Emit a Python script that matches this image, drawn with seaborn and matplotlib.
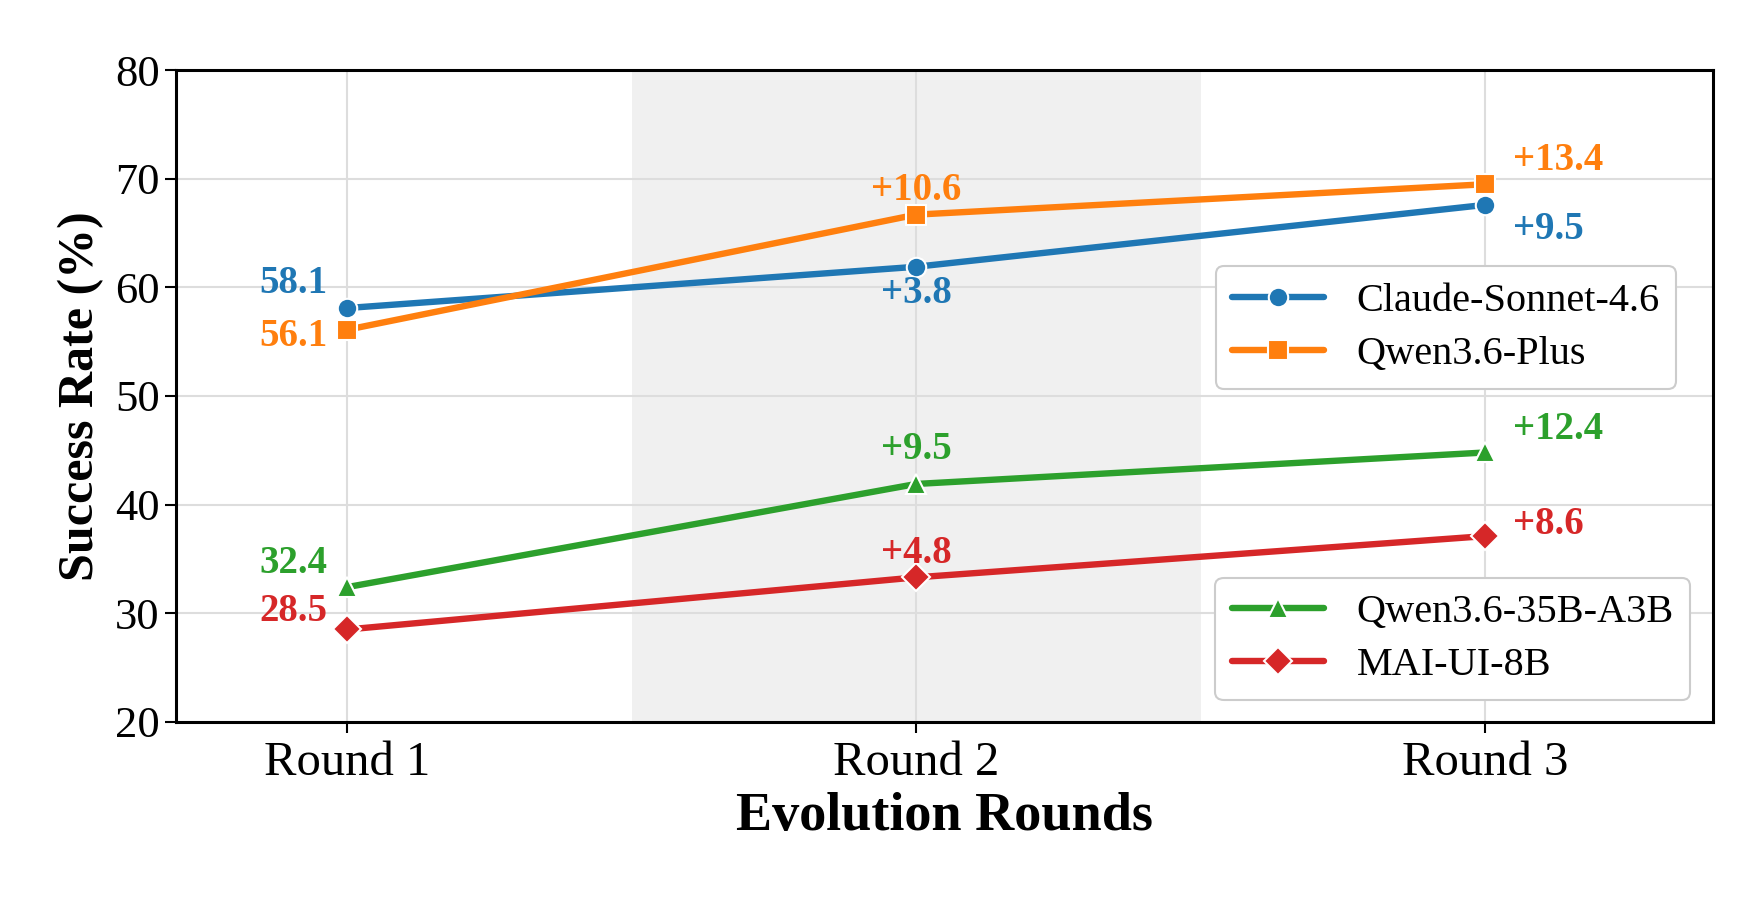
import numpy as np
import pandas as pd
import seaborn as sns
import matplotlib.pyplot as plt

sns.set_theme(style="whitegrid")
plt.rcParams["font.family"] = ["Liberation Serif", "DejaVu Serif"]
for k in ["text.color", "axes.labelcolor", "xtick.color", "ytick.color"]:
    plt.rcParams[k] = "black"

rounds = ["Round 1", "Round 2", "Round 3"]
models = ["Claude-Sonnet-4.6", "Qwen3.6-Plus", "Qwen3.6-35B-A3B", "MAI-UI-8B"]
claude = [58.1, 61.9, 67.6]
qwen_plus = [56.1, 66.7, 69.5]
qwen_35b = [32.4, 41.9, 44.8]
mai = [28.5, 33.3, 37.1]
claude_lbl = ["58.1", "+3.8", "+9.5"]
qwen_plus_lbl = ["56.1", "+10.6", "+13.4"]
qwen_35b_lbl = ["32.4", "+9.5", "+12.4"]
mai_lbl = ["28.5", "+4.8", "+8.6"]

colors = ["#1f77b4", "#ff7f0e", "#2ca02c", "#d62728"]
marker_map = dict(zip(models, ["o", "s", "^", "D"]))

series = [claude, qwen_plus, qwen_35b, mai]
labels = [claude_lbl, qwen_plus_lbl, qwen_35b_lbl, mai_lbl]
df = pd.DataFrame({
    "Round": rounds * len(models),
    "Rate": np.concatenate(series),
    "Model": np.repeat(models, len(rounds)),
})

fig, ax = plt.subplots(figsize=(17.64, 9), dpi=100)
fig.subplots_adjust(left=0.100, right=0.971, top=0.922, bottom=0.198)

ax.axvspan(0.5, 1.5, color="#f0f0f0", zorder=0, lw=0)
sns.lineplot(data=df, x="Round", y="Rate", hue="Model", style="Model",
             hue_order=models, style_order=models, palette=colors,
             markers=marker_map, dashes=False, linewidth=4.6, markersize=14,
             markeredgecolor="white", markeredgewidth=1.5, legend=False, ax=ax, zorder=3)

# per-label offsets in pixels (dx, dy)
offs = [
    [(-20, 25), (0, -27), (28, -25)],
    [(-20, -7), (0, 24), (28, 24)],
    [(-20, 24), (0, 34), (28, 23)],
    [(-20, 18), (0, 24), (28, 12)],
]
has = ["right", "center", "left"]
for vals, lbls, col, off in zip(series, labels, colors, offs):
    for i in range(3):
        ax.annotate(lbls[i], (i, vals[i]), xytext=off[i], textcoords="offset pixels",
                    ha=has[i], va="center", fontsize=28, fontweight="bold", color=col)

ax.set_xlim(-0.3, 2.4)
ax.set_ylim(20, 80)
ax.set_yticks(range(20, 81, 10))
ax.set_xlabel("Evolution Rounds", fontsize=39, fontweight="bold", labelpad=5)
ax.set_ylabel("Success Rate (%)", fontsize=36, fontweight="bold", labelpad=8)
ax.tick_params(axis="x", labelsize=35, length=8, width=1.5, color="black", bottom=True, pad=6)
ax.tick_params(axis="y", labelsize=32, length=8, width=1.5, color="black", left=True, pad=4)
ax.grid(True, color="#dddddd", linewidth=1.5)
ax.set_axisbelow(True)
for s in ax.spines.values():
    s.set_color("black")
    s.set_linewidth(2.2)

h = ax.lines[:4]
leg_kw = dict(fontsize=29, handlelength=2.3, labelspacing=0.4, frameon=True, fancybox=True,
              borderaxespad=0, edgecolor="#cccccc", framealpha=1)
leg1 = ax.legend(h[:2], models[:2], loc="upper right", bbox_to_anchor=(0.976, 0.699), **leg_kw)
leg1.get_frame().set_linewidth(1.5)
ax.add_artist(leg1)
leg2 = ax.legend(h[2:], models[2:], loc="lower right", bbox_to_anchor=(0.985, 0.033), **leg_kw)
leg2.get_frame().set_linewidth(1.5)

fig.savefig("out.png", dpi=100)
